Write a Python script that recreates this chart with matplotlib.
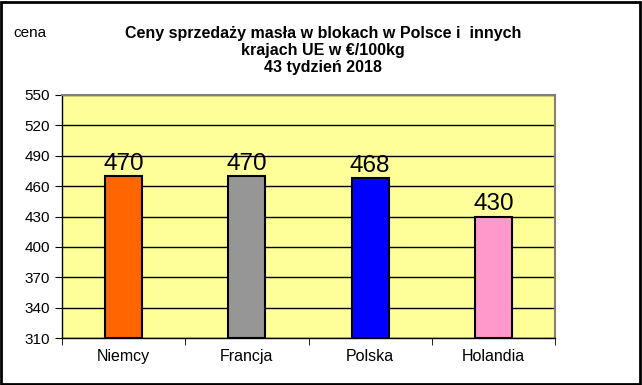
import matplotlib.pyplot as plt
from matplotlib.patches import Rectangle

plt.rcParams['font.family'] = ['Liberation Sans', 'DejaVu Sans']

countries = ['Niemcy', 'Francja', 'Polska', 'Holandia']
prices = [470, 470, 468, 430]
labels = ['470', '470', '468', '430']
colors = ['#FF6600', '#969696', '#0000FF', '#FF99CC']
yticks = [310, 340, 370, 400, 430, 460, 490, 520, 550]

fig = plt.figure(figsize=(6.42, 3.85), dpi=100)
ax = fig.add_axes([62 / 642, 1 - 338 / 385, (555 - 62) / 642, (338 - 95) / 385])
ax.set_facecolor('#FFFF99')

x = range(len(countries))
ax.bar(x, [p - 310 for p in prices], bottom=310, width=0.3, color=colors,
       edgecolor='black', linewidth=1.5, zorder=3)
for i, p in enumerate(prices):
    ax.text(i, p + 1, labels[i], ha='center', va='bottom', fontsize=17.5, zorder=4)

ax.set_xlim(-0.5, 3.5)
ax.set_ylim(310, 550)
ax.set_yticks(yticks)
ax.set_yticklabels([str(t) for t in yticks], fontsize=11)
ax.yaxis.grid(True, color='black', linewidth=1, zorder=1)
ax.set_axisbelow(True)

ax.set_xticks(list(x))
ax.set_xticklabels(countries, fontsize=11.5)
ax.set_xticks([-0.5, 0.5, 1.5, 2.5, 3.5], minor=True)
ax.tick_params(axis='x', which='major', length=0, pad=8)
ax.tick_params(axis='x', which='minor', length=5, direction='out')
ax.tick_params(axis='y', length=5, direction='out')

for s in ['top', 'right']:
    ax.spines[s].set_color('#808080')
    ax.spines[s].set_linewidth(1.5)
for s in ['left', 'bottom']:
    ax.spines[s].set_color('black')
    ax.spines[s].set_linewidth(1)

fig.text(323 / 642, 1 - 26 / 385,
         'Ceny sprzedaży masła w blokach w Polsce i  innych\nkrajach UE w €/100kg\n43 tydzień 2018',
         ha='center', va='top', fontsize=11.5, fontweight='bold', linespacing=1.15)
fig.text(13 / 642, 1 - 26 / 385, 'cena', ha='left', va='top', fontsize=11)

fig.add_artist(Rectangle((0.002, 0.003), 0.995, 0.993, transform=fig.transFigure,
                         fill=False, edgecolor='black', linewidth=2))

fig.savefig('out.png', dpi=100)
